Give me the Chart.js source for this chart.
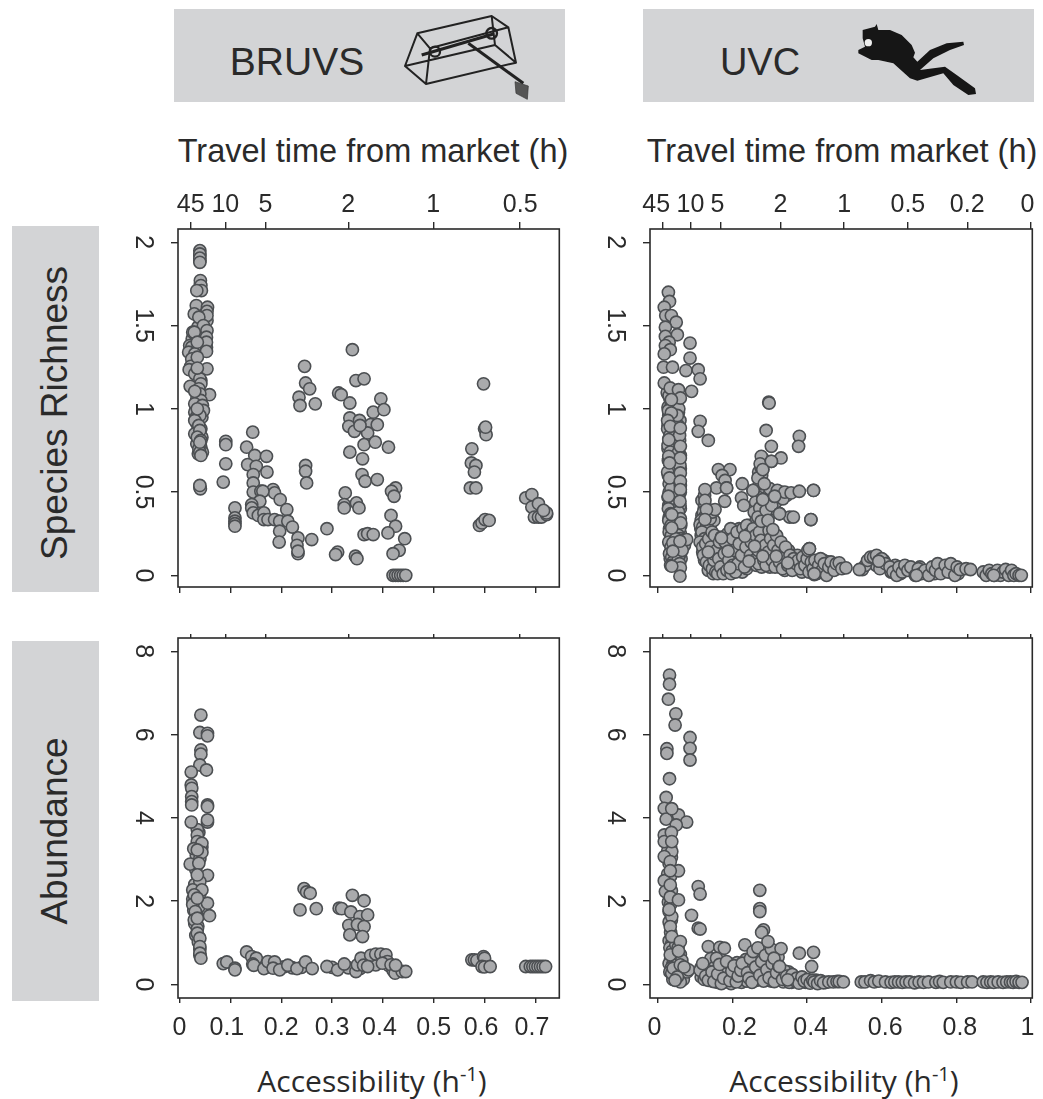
<!DOCTYPE html>
<html>
<head>
<meta charset="utf-8">
<title>BRUVS and UVC accessibility</title>
<script src="https://cdn.jsdelivr.net/npm/chart.js@4"></script>
<style>
	html, body { margin: 0; padding: 0; background: #fff; }
	body { position: relative; width: 1043px; height: 1099px; overflow: hidden; font-family: "Liberation Sans", Arial, sans-serif; color: #2a2a2a; filter: blur(0.45px); }
	canvas { position: absolute; }
	.band { position: absolute; background: #d3d4d6; }
	.txt { position: absolute; white-space: nowrap; transform: translate(-50%, -50%); }
	.side { transform: translate(-50%, -50%) rotate(-90deg); }
	.access { font-family: "Open Sans", "Noto Sans", sans-serif; font-size: 30px; }
	.access sup { font-size: 20px; line-height: 0; }
	svg { position: absolute; }
</style>
</head>
<body>
<div class="band" style="left:174px;top:9px;width:391px;height:93px"></div>
<div class="band" style="left:643px;top:9px;width:391px;height:93px"></div>
<div class="band" style="left:12px;top:226px;width:87px;height:366px"></div>
<div class="band" style="left:12px;top:641px;width:87px;height:360px"></div>

<div class="txt" style="left:297px;top:62px;font-size:39px">BRUVS</div>
<div class="txt" style="left:760px;top:62px;font-size:38px">UVC</div>
<div class="txt" style="left:373px;top:151px;font-size:32.5px">Travel time from market (h)</div>
<div class="txt" style="left:842px;top:151px;font-size:32.5px">Travel time from market (h)</div>
<div class="txt side" style="left:55px;top:413px;font-size:37px">Species Richness</div>
<div class="txt side" style="left:55px;top:831px;font-size:37px">Abundance</div>
<div class="txt access" style="left:372px;top:1080px">Accessibility (h<sup>-1</sup>)</div>
<div class="txt access" style="left:844px;top:1080px">Accessibility (h<sup>-1</sup>)</div>

<svg style="left:380px;top:0" width="200" height="110" viewBox="0 0 600 330" fill="none" stroke="#222" stroke-width="6" stroke-linejoin="round">
	<path d="M112 100L335 48L385 82L150 145ZM112 100L75 198L138 252L408 188L385 82M150 145L138 252M75 198L345 135L335 48M345 135L408 188"/>
	<path d="M125 165L340 102" stroke-width="10"/>
	<circle cx="165" cy="155" r="15" stroke-width="7"/>
	<circle cx="335" cy="100" r="16" stroke-width="7"/>
	<path d="M265 130L430 250" stroke-width="9"/>
	<path d="M405 245L445 258L442 298L408 280Z" fill="#555" stroke="#333" stroke-width="2"/>
</svg>
<svg style="left:830px;top:0" width="170" height="110" viewBox="0 0 510 330">
	<path fill="#161616" d="M98 90L135 80L140 72L145 90L180 90L215 105L245 135L255 158L250 172L262 185L300 150L350 130L400 125L402 135L360 150L310 175L270 210L345 200L380 225L435 265L438 282L415 285L370 255L340 220L262 242L240 235L190 190L145 180L125 180L85 160L85 150L105 140L98 115Z"/>
	<circle cx="115" cy="128" r="11" fill="#eee"/>
</svg>

<canvas id="bruvsRichnessChart" width="439" height="414" style="left:128px;top:184px"></canvas>
<canvas id="uvcRichnessChart" width="440" height="414" style="left:600px;top:184px"></canvas>
<canvas id="bruvsAbundanceChart" width="439" height="460" style="left:128px;top:628px"></canvas>
<canvas id="uvcAbundanceChart" width="440" height="460" style="left:600px;top:628px"></canvas>

<script>
// values as [accessibility, response]
const bruvsRichness = [
	[.036,1.22],[.042,1.17],[.036,1.13],[.044,1.08],[.034,1.06],[.040,1.03],[.036,.97],[.044,.95],[.034,.91],[.042,.88],
	[.036,.85],[.044,.83],[.034,.79],[.042,.77],[.037,.73],[.045,.74],[.027,1.27],[.025,1.42],[.032,1.44],[.036,1.49],
	[.040,.98],[.033,1.01],[.040,1.92],[.040,1.89],[.041,1.75],[.054,1.53],[.053,1.37],
	[.040,1.95],[.040,1.93],[.040,1.905],[.040,1.88],[.041,1.77],[.042,1.74],[.043,1.71],[.034,1.71],
	[.033,1.62],[.029,1.57],[.055,1.61],[.054,1.585],[.054,1.56],[.038,1.55],[.047,1.50],[.026,1.46],
	[.029,1.46],[.054,1.47],[.053,1.43],[.053,1.40],[.020,1.38],[.024,1.37],[.018,1.34],[.053,1.345],
	[.030,1.33],[.024,1.30],[.022,1.255],[.019,1.235],[.054,1.24],[.030,1.21],[.040,1.18],[.042,1.15],
	[.021,1.135],[.038,1.12],[.059,1.085],[.040,1.09],[.042,1.05],[.030,1.03],[.045,1.02],[.030,.98],
	[.047,.99],[.033,.95],[.040,.96],[.030,.93],[.038,.90],[.030,.85],[.040,.87],[.035,.83],[.042,.81],
	[.038,.76],[.040,.74],[.042,.72],[.040,.53],[.041,.52],[.035,1.40],[.035,1.31],[.035,1.245],[.030,1.105],
	[.035,1.0],[.040,.80],[.040,.54],
	[.091,.805],[.091,.785],[.091,.67],[.086,.56],[.109,.405],[.109,.345],[.109,.325],[.109,.31],[.109,.295],
	[.132,.77],[.144,.86],[.148,.72],[.171,.715],[.134,.665],[.151,.655],[.172,.62],[.145,.605],[.145,.555],
	[.145,.50],[.160,.505],[.184,.515],[.187,.495],[.164,.505],[.198,.455],[.158,.445],[.142,.425],[.142,.405],
	[.145,.375],[.155,.36],[.166,.375],[.166,.335],[.174,.335],[.187,.335],[.197,.325],[.211,.395],[.213,.325],
	[.222,.29],[.197,.265],[.196,.20],[.233,.225],[.231,.18],[.233,.13],[.233,.145],[.260,.215],[.290,.28],
	[.246,1.255],[.248,1.155],[.256,1.12],[.267,1.03],[.235,1.07],[.237,1.02],[.248,.66],[.248,.625],[.250,.555],
	[.340,1.355],[.347,1.17],[.363,1.18],[.313,1.095],[.318,1.085],[.335,1.035],[.396,1.06],[.381,.98],[.402,.995],
	[.335,.945],[.354,.93],[.333,.895],[.376,.905],[.389,.905],[.344,.865],[.370,.855],[.355,.90],[.363,.785],
	[.385,.80],[.411,.77],[.335,.74],[.360,.70],[.359,.605],[.365,.565],[.389,.575],[.326,.495],[.324,.425],
	[.324,.405],[.348,.435],[.353,.405],[.363,.245],[.370,.25],[.381,.245],[.311,.14],[.307,.125],[.346,.115],
	[.349,.10],[.425,.525],[.417,.505],[.422,.475],[.416,.36],[.425,.295],[.410,.255],[.443,.22],[.432,.15],
	[.420,.13],[.420,0],[.425,0],[.430,0],[.435,0],[.440,0],[.445,0],
	[.575,.76],[.574,.675],[.583,.66],[.580,.62],[.572,.525],[.583,.525],[.598,1.15],[.600,.88],[.603,.845],
	[.602,.89],[.590,.30],[.595,.315],[.601,.335],[.609,.33],
	[.681,.465],[.693,.485],[.693,.41],[.706,.43],[.698,.35],[.706,.35],[.712,.35],[.722,.365],[.722,.375],[.716,.39]
];

const bruvsAbundance = [
	[.038,3.65],[.033,3.10],[.040,3.02],[.032,2.76],[.038,2.55],[.030,2.40],[.040,2.18],[.026,2.05],[.032,1.98],[.038,1.86],
	[.028,1.78],[.034,1.68],[.030,1.46],[.036,1.40],[.032,1.18],[.037,1.02],[.040,.84],[.040,.70],[.035,3.72],[.044,3.30],
	[.042,6.47],[.040,6.05],[.055,6.03],[.055,5.97],[.042,5.63],[.042,5.53],[.040,5.27],[.053,5.15],[.023,5.10],
	[.023,4.79],[.024,4.71],[.024,4.51],[.024,4.39],[.024,4.31],[.055,4.31],[.055,4.27],[.023,3.90],[.055,3.90],
	[.055,3.95],[.035,3.59],[.035,3.43],[.044,3.39],[.028,3.26],[.044,3.17],[.021,2.89],[.055,2.62],[.040,2.47],
	[.026,2.27],[.044,2.27],[.029,2.15],[.055,1.95],[.026,1.92],[.031,1.75],[.059,1.65],[.029,1.55],[.035,1.33],
	[.035,1.23],[.040,1.11],[.040,.91],[.040,.75],[.042,.63],[.035,3.23],[.038,2.91],[.035,2.63],[.035,2.07],[.035,1.59],
	[.086,.50],[.093,.54],[.109,.39],[.109,.35],
	[.155,.55],[.163,.50],[.176,.42],[.205,.42],[.222,.40],[.240,.41],[.300,.41],[.332,.40],[.355,.38],[.380,.58],
	[.392,.60],[.402,.62],[.412,.45],[.420,.34],[.430,.33],
	[.132,.78],[.142,.67],[.151,.63],[.144,.49],[.146,.46],[.166,.38],[.174,.55],[.187,.54],[.184,.39],[.197,.35],
	[.213,.46],[.231,.38],[.248,.54],[.261,.38],[.290,.43],[.311,.35],[.324,.49],
	[.347,.31],[.350,.47],[.357,.63],[.386,.47],[.376,.70],[.386,.73],[.396,.73],[.406,.71],[.409,.55],[.399,.51],
	[.416,.47],[.424,.27],[.438,.31],[.445,.31],[.362,.46],[.370,.43],[.425,.46],
	[.245,2.30],[.250,2.22],[.257,2.19],[.237,1.79],[.269,1.82],
	[.340,2.14],[.363,2.01],[.314,1.83],[.319,1.82],[.337,1.74],[.355,1.63],[.370,1.67],[.333,1.42],[.350,1.44],
	[.363,1.39],[.335,1.19],[.360,1.15],
	[.575,.59],[.580,.59],[.585,.58],[.598,.67],[.600,.63],[.595,.43],[.600,.42],[.611,.43],
	[.681,.43],[.690,.43],[.695,.43],[.700,.43],[.705,.43],[.710,.43],[.715,.43],[.720,.43]
];

// crowded parts, drawn first so the sharper circles sit over them
const uvcRichnessDense = [
	[.026,1.09],[.032,1.06],[.038,1.04],[.027,1.01],[.035,.98],[.029,.96],[.037,.92],[.027,.90],[.035,.87],[.029,.82],
	[.037,.80],[.027,.76],[.035,.72],[.029,.70],[.037,.64],[.028,.60],[.036,.57],[.030,.50],[.037,.48],[.029,.42],
	[.036,.40],[.030,.35],[.037,.33],[.031,.28],[.038,.22],[.032,.19],[.038,.15],[.033,.10],[.042,.12],[.045,.20],
	[.055,.98],[.059,.93],[.054,.90],[.058,.81],[.054,.78],[.060,.72],[.055,.69],[.060,.64],[.054,.58],[.060,.50],
	[.056,.45],[.060,.40],[.055,.35],[.061,.30],[.056,.27],[.060,.25],[.055,.20],[.061,.16],[.056,.12],[.062,.10],
	[.118,.45],[.124,.40],[.118,.36],[.130,.34],[.115,.28],[.124,.26],[.134,.27],[.142,.31],[.150,.33],[.116,.24],
	[.128,.16],[.120,.14],[.134,.12],[.125,.09],[.142,.09],[.135,.03],[.148,.01],[.152,.06],[.158,.11],[.160,.05],
	[.165,.16],[.172,.08],[.172,.18],[.176,.03],[.182,.09],[.180,.16],[.186,.13],[.188,.19],[.192,.15],[.196,.07],
	[.196,.22],[.202,.03],[.202,.12],[.205,.26],[.208,.18],[.210,.10],[.214,.03],[.216,.15],[.218,.28],[.222,.07],
	[.224,.21],[.226,.02],[.228,.15],[.232,.25],[.234,.10],[.238,.04],[.240,.20],[.242,.30],[.246,.15],[.250,.07],
	[.252,.25],[.256,.17],[.260,.12],[.262,.31],[.264,.06],[.266,.20],[.270,.29],[.274,.12],[.278,.05],[.280,.17],
	[.282,.26],[.286,.13],[.290,.23],[.292,.10],[.294,.30],[.300,.05],[.303,.18],[.308,.12],[.312,.24],[.316,.09],
	[.320,.19],[.324,.13],[.328,.05],[.332,.16],[.336,.09],[.340,.03],[.344,.12],[.350,.15],[.356,.08],[.362,.12],
	[.368,.04],[.374,.12],[.380,.08],[.386,.02],[.392,.09],[.398,.04],[.424,.07],[.434,.03],[.444,.09],[.455,.08],
	[.468,.06],[.482,.04],[.575,.09],[.585,.06],[.595,.04],[.605,.09],[.625,.02],[.636,.06],[.650,.01],[.660,.03],
	[.685,.02],[.702,.05],[.722,.01],[.742,.01],[.755,.03],[.790,.03],[.805,.01],
	[.262,.50],[.270,.46],[.276,.52],[.284,.42],[.286,.50],[.292,.47],[.298,.43],[.300,.37],[.310,.40],[.316,.44],
	[.330,.50],[.345,.48],[.270,.62],[.278,.60],[.276,.65],[.282,.70],[.272,.55],[.268,.47],[.264,.34],[.283,.34]
];

const uvcRichness = [
	// left columns
	[.025,1.10],[.030,1.08],[.036,1.02],[.028,.99],[.033,.95],[.026,.88],[.032,.84],[.027,.78],[.033,.74],[.028,.69],
	[.034,.66],[.026,.62],[.030,.55],[.035,.52],[.027,.47],[.033,.44],[.028,.40],[.034,.37],[.029,.33],[.035,.30],
	[.030,.26],[.036,.24],[.029,.20],[.035,.17],[.031,.13],[.037,.11],[.040,.08],[.034,.06],
	[.056,1.00],[.052,.96],[.058,.84],[.055,.74],[.059,.66],[.056,.60],[.060,.54],[.056,.48],[.059,.42],[.055,.38],
	[.060,.34],[.058,.28],[.055,.24],[.061,.22],[.056,.17],[.060,.13],[.055,.10],[.058,.07],[.048,.22],[.047,.16],
	[.068,.21],[.071,.18],[.077,.215],[.065,.15],
	// second cluster
	[.125,.48],[.126,.42],[.122,.38],[.128,.36],[.116,.33],[.113,.305],[.120,.29],[.131,.30],[.140,.34],[.146,.38],
	[.153,.395],[.118,.26],[.125,.22],[.113,.20],[.120,.17],[.128,.19],[.136,.22],[.145,.26],[.152,.24],[.122,.12],
	[.130,.08],[.138,.06],[.146,.04],[.150,.09],[.155,.02],[.160,.01],[.142,.17],[.148,.13],[.157,.15],[.165,.20],
	[.170,.23],[.163,.10],[.168,.05],[.175,.01],[.178,.13],[.185,.03],[.190,.09],[.196,.01],[.180,.20],[.187,.25],
	[.195,.28],[.200,.22],[.205,.15],[.200,.06],[.208,.02],[.214,.07],[.212,.26],[.218,.19],[.224,.12],[.228,.28],
	[.232,.05],[.236,.17],[.238,.30],[.245,.25],[.250,.20],[.248,.12],[.255,.28],[.258,.09],[.262,.24],[.268,.15],
	[.270,.07],[.272,.26],[.276,.21],[.284,.09],[.288,.18],[.290,.06],[.296,.14],[.298,.27],[.302,.22],[.306,.09],
	[.310,.18],[.314,.05],[.318,.24],[.322,.15],[.326,.08],[.330,.20],[.334,.04],[.338,.13],[.342,.17],[.348,.06],
	[.354,.12],[.360,.03],[.364,.10],[.370,.07],[.376,.09],[.382,.04],[.388,.11],[.394,.06],[.400,.10],[.405,.02],
	[.406,.16],[.402,.15],[.411,.08],[.416,.04],[.421,.09],[.426,.01],[.431,.06],[.436,.10],[.440,.03],[.446,.07],
	[.452,.00],[.458,.05],[.464,.08],[.472,.03],[.478,.07],[.486,.075],[.493,.04],[.504,.045],[.419,.005],
	// upper fan
	[.162,.635],[.193,.635],[.172,.60],[.180,.57],[.157,.525],[.184,.525],[.179,.445],[.226,.55],[.224,.465],[.230,.42],
	[.255,.51],[.262,.44],[.258,.38],[.273,.405],[.268,.35],[.277,.325],[.281,.455],[.290,.39],[.295,.33],[.300,.52],
	[.305,.42],[.313,.475],[.320,.51],[.326,.37],[.335,.46],[.340,.50],[.353,.35],[.363,.35],[.357,.495],[.379,.505],
	[.417,.51],[.410,.335],[.308,.275],[.277,.715],[.281,.635],[.268,.585],[.274,.67],[.285,.55],[.290,.87],[.297,1.04],
	[.298,1.035],[.304,.775],[.330,.705],[.304,.685],[.379,.835],[.377,.775],
	// upper isolated
	[.086,1.395],[.086,1.305],[.075,1.23],[.108,1.235],[.113,1.18],[.090,1.105],[.113,.925],[.108,.865],[.135,.81],
	[.028,1.70],[.031,1.645],[.017,1.61],[.021,1.56],[.036,1.56],[.049,1.52],[.020,1.49],[.052,1.445],[.020,1.435],
	[.030,1.40],[.020,1.38],[.033,1.355],[.017,1.33],[.015,1.25],[.039,1.25],[.017,1.155],[.033,1.125],[.055,1.115],
	[.060,1.065],[.036,1.055],[.036,.975],[.026,.93],[.033,.895],[.060,.885],[.029,.815],[.060,.775],[.029,.715],
	[.060,.705],[.031,.675],[.031,.585],[.060,.615],[.060,.565],[.060,.515],[.028,.475],[.059,.445],[.037,.365],
	[.061,.315],[.037,.285],[.040,.195],[.059,.205],[.040,.145],[.060,.045],[.059,-.005],[.037,.055],
	// baseline to the right
	[.548,.035],[.556,.06],[.562,.09],[.570,.11],[.578,.11],[.586,.12],[.592,.085],[.600,.10],[.610,.07],[.622,.05],
	[.630,.02],[.640,.00],[.646,.05],[.655,.02],[.662,.06],[.670,.03],[.678,.05],[.690,.00],[.698,.04],[.706,.01],
	[.716,.03],[.726,.00],[.735,.05],[.744,.03],[.750,.07],[.758,.01],[.770,.06],[.778,.02],[.785,.07],[.796,.00],
	[.802,.05],[.810,.035],[.826,.04],[.838,.035],[.872,.02],[.880,.00],[.888,.03],[.895,.01],[.902,.00],[.910,.03],
	[.918,.00],[.925,.02],[.932,.035],[.940,.00],[.948,.03],[.954,.00],[.960,.01],[.968,.00],[.974,.00],
	// lighter centres sitting on top
	[.126,.515],[.126,.45],[.130,.395],[.126,.335],[.135,.14],[.170,.225],[.188,.145],[.193,.045],[.233,.235],
	[.259,.175],[.244,.085],[.281,.115],[.317,.115],[.348,.075],[.406,.16],[.419,.01],[.540,.035],[.592,.085],[.693,.00],
	[.900,.00],[.184,.525],[.255,.51],[.281,.455],[.313,.475],[.326,.37],[.304,.685],[.281,.635],[.417,.51],[.410,.335]
];

const uvcAbundanceDense = [
	[.028,3.50],[.034,3.30],[.026,3.20],[.036,3.05],[.030,2.90],[.026,2.65],[.034,2.60],[.030,2.30],[.036,2.25],[.028,1.98],
	[.034,1.92],[.030,1.75],[.036,1.55],[.030,1.50],[.034,1.25],[.030,1.05],[.037,.98],[.032,.88],[.038,.80],[.034,.60],
	[.030,.50],[.040,.48],[.036,.40],[.032,.30],[.042,.20],[.040,.12],[.048,.95],[.054,.88],[.060,.72],[.052,.62],
	[.064,.58],[.058,.40],[.066,.30],[.056,.26],[.068,.12],[.074,.36],[.078,.30],[.048,.33],
	[.115,.40],[.122,.28],[.116,.18],[.124,.12],[.130,.30],[.134,.50],[.140,.18],[.142,.62],[.146,.08],[.150,.40],
	[.154,.20],[.160,.05],[.162,.38],[.168,.16],[.170,.60],[.174,.30],[.178,.06],[.180,.44],[.186,.18],[.188,.32],
	[.192,.50],[.196,.02],[.200,.14],[.202,.28],[.206,.08],[.210,.38],[.212,.52],[.218,.12],[.220,.24],[.224,.05],
	[.228,.42],[.232,.18],[.236,.60],[.238,.08],[.242,.36],[.246,.48],[.250,.22],[.254,.14],[.258,.34],[.260,.70],
	[.264,.10],[.266,.50],[.270,.30],[.274,.62],[.276,.12],[.280,.42],[.282,.85],[.286,.24],[.288,.52],[.290,.10],
	[.294,.62],[.296,.30],[.300,.18],[.302,.46],[.304,.08],[.308,.36],[.314,.22],[.316,.55],[.320,.12],[.322,.66],
	[.328,.18],[.332,.35],[.336,.06],[.338,.24],[.342,.14],[.350,.30],[.356,.12],[.358,.05],[.364,.18],[.368,.08],
	[.374,.12],[.382,.06],[.390,.14],[.396,.05],[.404,.10],[.412,.06],[.424,.10],[.432,.05],[.440,.06],[.450,.05]
];

const uvcAbundance = [
	[.031,7.43],[.031,7.21],[.028,6.85],[.048,6.50],[.046,6.23],[.086,5.93],[.086,5.67],[.086,5.39],[.024,5.66],[.024,5.55],
	[.031,4.94],[.022,4.49],[.017,4.23],[.055,4.07],[.022,3.97],[.077,3.90],[.049,3.83],[.017,3.59],[.017,3.43],[.037,3.19],
	[.017,3.07],[.033,2.95],[.055,2.73],[.017,2.49],[.020,2.23],[.033,2.10],[.055,2.03],[.108,2.35],[.113,2.17],[.090,1.66],
	[.108,1.35],[.113,1.33],[.037,1.63],[.030,1.80],[.033,1.39],[.037,1.15],[.033,.71],[.060,1.03],[.055,.80],[.037,.27],
	[.041,.39],[.060,.47],[.082,.35],[.060,.06],[.070,.42],[.052,.18],[.046,.10],[.036,3.65],[.033,2.39],[.037,4.22],
	[.037,3.43],[.033,2.73],
	// lower cluster
	[.135,.91],[.166,.89],[.178,.87],[.126,.38],[.113,.34],[.120,.50],[.128,.20],[.135,.10],[.145,.30],[.150,.07],
	[.157,.63],[.160,.25],[.165,.48],[.170,.02],[.176,.15],[.184,.55],[.193,.09],[.198,.32],[.204,.45],[.210,.06],
	[.215,.20],[.222,.34],[.226,.51],[.233,.95],[.240,.28],[.244,.15],[.248,.62],[.255,.79],[.252,.05],[.262,.42],
	[.268,.88],[.273,.22],[.278,.55],[.283,.08],[.288,.70],[.292,.35],[.298,.16],[.304,.85],[.306,.50],[.312,.07],
	[.318,.28],[.324,.44],[.330,.86],[.334,.12],[.340,.32],[.345,.20],[.352,.05],[.360,.24],[.366,.10],[.372,.15],
	[.378,.03],[.386,.18],[.392,.08],[.400,.12],[.408,.03],[.415,.10],[.412,.43],[.419,.06],[.428,.02],[.436,.09],
	[.444,.04],[.273,2.26],[.273,1.82],[.273,1.75],[.283,1.31],[.278,1.25],[.295,1.03],[.311,.63],[.326,.43],[.379,.75],
	[.417,.77],[.348,.11],
	// baseline to the right
	[.458,.06],[.470,.06],[.480,.07],[.486,.07],[.497,.06],[.545,.06],[.555,.06],[.570,.09],[.580,.06],[.592,.08],
	[.610,.06],[.625,.05],[.635,.06],[.645,.06],[.655,.05],[.665,.06],[.675,.06],[.688,.04],[.700,.06],[.712,.05],
	[.725,.06],[.745,.05],[.755,.07],[.765,.05],[.785,.06],[.800,.06],[.812,.05],[.830,.06],[.842,.06],[.872,.06],
	[.882,.05],[.892,.06],[.900,.05],[.912,.06],[.925,.05],[.935,.06],[.945,.06],[.952,.05],[.960,.07],[.968,.05],[.976,.05]
];

// tick positions and labels; the spaces nudge a label off its tick as in the figure
const bruvsXTicks = [0, 0.1, 0.2, 0.3, 0.4, 0.5, 0.6, 0.7];
const bruvsXLabels = ['0', '0.1 ', '0.2', '0.3', '0.4 ', '0.5', '0.6 ', '0.7 '];
const uvcXTicks = [0, 0.2, 0.4, 0.6, 0.8, 1];
const uvcXLabels = ['0 ', '  0.2', ' 0.4', ' 0.6', ' 0.8', '1 '];
const bruvsTopTicks = [0.022, 0.09, 0.169, 0.332, 0.499, 0.67];
const bruvsTopLabels = ['45', '10', '5', '2', '1', '0.5'];
const uvcTopTicks = [0.014, 0.087, 0.169, 0.3285, 0.499, 0.67, 0.829, 1];
const uvcTopLabels = ['45  ', '10', '5 ', '2', '1', '0.5', '0.2', '0 '];
const richnessTicks = [0, 0.5, 1, 1.5, 2];
const abundanceTicks = [0, 2, 4, 6, 8];

const TICK_FONT = { family: '"Liberation Sans", Arial, sans-serif', size: 25 };
const INK = '#2a2a2a';

var plotBox = {
	id: 'plotBox',
	afterDatasetsDraw: function (chart) {
		const a = chart.chartArea;
		const c = chart.ctx;
		c.save();
		c.strokeStyle = INK;
		c.lineWidth = 1.6;
		c.strokeRect(a.left, a.top, a.right - a.left, a.bottom - a.top);
		c.restore();
	}
};

function fixedTicks(values) {
	return scale => {
		scale.ticks = values.map(v => ({ value: v }));
	};
}

// pin an axis to a given thickness, dropping the room chart.js keeps for end labels
function pinAxis(prop, size) {
	return scale => {
		scale[prop] = size;
		scale.paddingTop = scale.paddingBottom = scale.paddingLeft = scale.paddingRight = 0;
	};
}

function makePanel(id, cfg) {
	var options = {
		responsive: false,
		animation: false,
		layout: { padding: { right: 6 } },
		plugins: {
			legend: { display: false },
			tooltip: { enabled: false }
		},
		scales: {
			x: {
				type: 'linear',
				position: 'bottom',
				min: cfg.xMin,
				max: cfg.xMax,
				afterBuildTicks: fixedTicks(cfg.xTicks),
				afterFit: pinAxis('height', cfg.bottomH),
				grid: { drawOnChartArea: false, tickLength: cfg.bottomTick, color: INK, lineWidth: 1.4 },
				border: { display: false },
				ticks: {
					display: cfg.showBottom,
					autoSkip: false,
					maxRotation: 0,
					color: INK,
					font: TICK_FONT,
					padding: 10,
					callback: (value, index) => cfg.xLabels[index]
				}
			},
			xTop: {
				type: 'linear',
				position: 'top',
				min: cfg.xMin,
				max: cfg.xMax,
				afterBuildTicks: fixedTicks(cfg.topTicks),
				afterFit: pinAxis('height', cfg.topH),
				grid: { drawOnChartArea: false, tickLength: cfg.topTick, color: INK, lineWidth: 1.4 },
				border: { display: false },
				ticks: {
					display: cfg.showTop,
					autoSkip: false,
					maxRotation: 0,
					color: INK,
					font: TICK_FONT,
					padding: 2,
					callback: (value, index) => cfg.topLabels[index]
				}
			},
			y: {
				type: 'linear',
				min: cfg.yMin,
				max: cfg.yMax,
				afterBuildTicks: fixedTicks(cfg.yTicks),
				afterFit: pinAxis('width', 50),
				grid: { drawOnChartArea: false, tickLength: 7, color: INK, lineWidth: 1.4 },
				border: { display: false },
				ticks: {
					autoSkip: false,
					minRotation: -90,
					maxRotation: -90,
					crossAlign: 'center',
					color: INK,
					font: TICK_FONT,
					padding: cfg.yPad,
					callback: value => String(value)
				}
			}
		}
	};

	return new Chart(document.getElementById(id), {
		type: 'scatter',
		data: {
			datasets: [{
				data: cfg.points.map(p => ({ x: p[0], y: p[1] })),
				backgroundColor: '#a9aaac',
				borderColor: '#4c4f52',
				borderWidth: 1.6,
				pointRadius: 6.1
			}]
		},
		options: options,
		plugins: [plotBox]
	});
}

var bruvsRange = { xMin: -0.003, xMax: 0.747, xTicks: bruvsXTicks, xLabels: bruvsXLabels, topTicks: bruvsTopTicks, topLabels: bruvsTopLabels };
var uvcRange = { xMin: -0.0213, xMax: 1.0035, xTicks: uvcXTicks, xLabels: uvcXLabels, topTicks: uvcTopTicks, topLabels: uvcTopLabels };
var richnessRow = { yMin: -0.07, yMax: 2.08, yTicks: richnessTicks, yPad: 11, topH: 45, bottomH: 11, topTick: 7, bottomTick: 6, showTop: true, showBottom: false };
var abundanceRow = { yMin: -0.326, yMax: 8.32, yTicks: abundanceTicks, yPad: 21, topH: 10, bottomH: 90, topTick: 4, bottomTick: 5, showTop: false, showBottom: true };

var bruvsRichnessChart = makePanel('bruvsRichnessChart', Object.assign({ points: bruvsRichness }, bruvsRange, richnessRow));
var uvcRichnessChart = makePanel('uvcRichnessChart', Object.assign({ points: uvcRichnessDense.concat(uvcRichness) }, uvcRange, richnessRow));
var bruvsAbundanceChart = makePanel('bruvsAbundanceChart', Object.assign({ points: bruvsAbundance }, bruvsRange, abundanceRow));
var uvcAbundanceChart = makePanel('uvcAbundanceChart', Object.assign({ points: uvcAbundanceDense.concat(uvcAbundance) }, uvcRange, abundanceRow));
</script>
</body>
</html>
